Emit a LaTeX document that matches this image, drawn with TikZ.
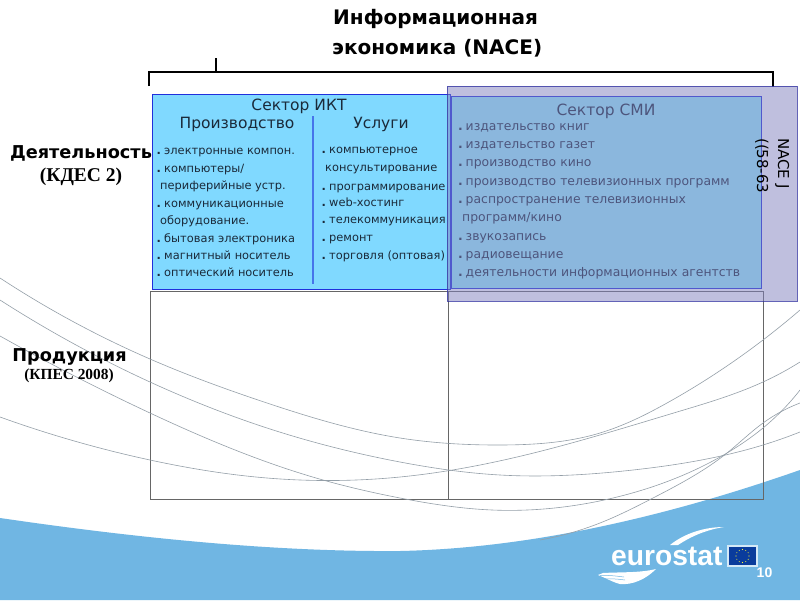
\documentclass[tikz,border=0pt]{standalone}
\usepackage{fontspec}
\usetikzlibrary{hobby}
\setmainfont{DejaVu Sans}
\newfontfamily\serifb{Liberation Serif}[BoldFont={Liberation Serif Bold}]
\newfontfamily\logofont{Liberation Sans}
\definecolor{wavec}{HTML}{70B6E3}
\definecolor{ictfill}{HTML}{80D9FF}
\definecolor{ictline}{HTML}{2030DC}
\definecolor{smifill}{HTML}{98F0FD}
\definecolor{overfill}{HTML}{8080BF}
\definecolor{overline}{HTML}{3030A0}
\definecolor{gridc}{HTML}{666666}
\definecolor{curvec}{HTML}{949FA8}
\definecolor{txt}{HTML}{1A2A3A}
\definecolor{flagc}{HTML}{0A3C9C}
\newcommand{\dotitem}[1]{\makebox[7.5pt][l]{\textbf{.}}#1}
\tikzset{
  ll/.style={anchor=base west,inner sep=0pt,font=\fontsize{11.4}{13}\selectfont,text=txt},
  lm/.style={anchor=base west,inner sep=0pt,font=\fontsize{12.4}{14}\selectfont,text=txt},
  hd/.style={anchor=center,inner sep=0pt,font=\fontsize{15.5}{18}\selectfont,text=txt},
  ttl/.style={anchor=base west,inner sep=0pt,font=\fontsize{20}{23}\selectfont\bfseries},
  side/.style={anchor=center,inner sep=0pt,font=\fontsize{17.7}{20}\selectfont\bfseries},
  sub/.style={anchor=center,inner sep=0pt},
  curve/.style={curvec,line width=0.6pt,use Hobby shortcut},
  grid box/.style={draw=gridc,line width=1.2pt},
}
\begin{document}
\begin{tikzpicture}[x=1pt,y=-1pt]
\useasboundingbox (0,0) rectangle (800,600);
\fill[white] (0,0) rectangle (800,600);
% background wave
\fill[wavec] (0,518) .. controls (130,537) and (270,552) .. (400,551)
  .. controls (540,548) and (680,512) .. (800,470) -- (800,600) -- (0,600) -- cycle;
% lower grid
\node[grid box,minimum width=298pt,minimum height=208pt,anchor=north west,inner sep=0pt] (lowL) at (150,291) {};
\node[grid box,minimum width=315pt,minimum height=208pt,anchor=north west,inner sep=0pt] (lowR) at (448,291) {};
% curves
\draw[curve] (0,278) .. (150,359) .. (267,403) .. (400,438) .. (500,445) .. (600,433) .. (667,403) .. (763,340) .. (800,310);
\draw[curve] (0,300) .. (150,382) .. (267,428) .. (400,462) .. (500,475) .. (633,470) .. (763,445) .. (800,432);
\draw[curve] (0,336) .. (150,413) .. (323,480) .. (400,498) .. (492,510) .. (613,498) .. (727,453) .. (763,428) .. (800,390);
\draw[curve] (0,417) .. (150,460) .. (267,478) .. (400,477) .. (517,457) .. (677,412) .. (763,382) .. (800,362);
\draw[curve] (540,540) .. (600,523) .. (653,498) .. (727,453) .. (763,423) .. (800,403);
% bracket
\coordinate (brL) at (149,86);
\coordinate (brLt) at (149,72);
\coordinate (brRt) at (773,72);
\coordinate (brR) at (773,87);
\coordinate (tickB) at (216,72);
\coordinate (tickT) at (216,58);
\draw[black,line width=2.6pt] (brL) -- (brLt) -- (brRt) -- (brR);
\draw[black,line width=2.6pt] (tickB) -- (tickT);
% title
\node[ttl] (t1) at (333,24) {Информационная};
\node[ttl] (t2) at (332,54) {экономика (NACE)};
% side labels
\node[side] (dey) at (81,153) {Деятельность};
\node[sub,font=\serifb\bfseries\fontsize{19.5}{22}\selectfont] (kdes) at (81,177) {(КДЕС 2)};
\node[side] (prod) at (69.5,356.5) {Продукция};
\node[sub,font=\serifb\bfseries\fontsize{15.4}{18}\selectfont] (kpes) at (69,376) {(КПЕС 2008)};
% ICT box
\node[draw=ictline,fill=ictfill,line width=1.3pt,minimum width=298pt,minimum height=195pt,anchor=north west,inner sep=0pt] (ict) at (152,94) {};
\coordinate (divT) at (313,116);
\coordinate (divB) at (313,284);
\draw[color=ictline!60!ictfill,line width=1.2pt] (divT) -- (divB);
\node[hd] (ictH) at (299,106.5) {Сектор ИКТ};
\node[hd] (pr) at (237,124.5) {Производство};
\node[hd] (us) at (381,124.5) {Услуги};
\node[ll] (a1) at (156.5,154) {\dotitem{электронные компон.}};
\node[ll] (a2) at (156.5,172) {\dotitem{компьютеры/}};
\node[ll] (a3) at (160,189) {периферийные устр.};
\node[ll] (a4) at (156.5,207) {\dotitem{коммуникационные}};
\node[ll] (a5) at (160,224) {оборудование.};
\node[ll] (a6) at (156.5,242) {\dotitem{бытовая электроника}};
\node[ll] (a7) at (156.5,259) {\dotitem{магнитный носитель}};
\node[ll] (a8) at (156.5,276) {\dotitem{оптический носитель}};
\node[ll] (b1) at (321.5,153) {\dotitem{компьютерное}};
\node[ll] (b2) at (325,171) {консультирование};
\node[ll] (b3) at (321.5,190) {\dotitem{программирование}};
\node[ll] (b4) at (321.5,206) {\dotitem{web-хостинг}};
\node[ll] (b5) at (321.5,223) {\dotitem{телекоммуникация}};
\node[ll] (b6) at (321.5,241) {\dotitem{ремонт}};
\node[ll] (b7) at (321.5,259) {\dotitem{торговля (оптовая)}};
% SMI box
\node[draw=ictline,fill=smifill,line width=1.3pt,minimum width=310pt,minimum height=192pt,anchor=north west,inner sep=0pt] (smi) at (451,96) {};
\node[hd] (smiH) at (606,111.5) {Сектор СМИ};
\node[lm] (c1) at (458,130) {\dotitem{издательство книг}};
\node[lm] (c2) at (458,148) {\dotitem{издательство газет}};
\node[lm] (c3) at (458,166) {\dotitem{производство кино}};
\node[lm] (c4) at (458,185) {\dotitem{производство телевизионных программ}};
\node[lm] (c5) at (458,203) {\dotitem{распространение телевизионных}};
\node[lm] (c6) at (462,221) {программ/кино};
\node[lm] (c7) at (458,240) {\dotitem{звукозапись}};
\node[lm] (c8) at (458,258) {\dotitem{радиовещание}};
\node[lm] (c9) at (458,276) {\dotitem{деятельности информационных агентств}};
% translucent overlay
\node[draw=overline,fill=overfill,fill opacity=0.5,draw opacity=0.75,line width=0.9pt,minimum width=350pt,minimum height=215pt,anchor=north west,inner sep=0pt] (over) at (447,86) {};
% NACE text
\node[anchor=base west,rotate=-90,inner sep=0pt,font=\fontsize{15}{17}\selectfont] (n1) at (778,138) {NACE J};
\node[anchor=base west,rotate=-90,inner sep=0pt,font=\fontsize{15}{17}\selectfont] (n2) at (757,138) {((58-63};
% logo
\node[anchor=base west,inner sep=0pt,text=white,font=\logofont\bfseries\fontsize{28.2}{32}\selectfont] (logo) at (611,565) {eurostat};
\fill[white] (670,545) .. controls (685,533) and (705,527) .. (724,527) .. controls (705,530) and (690,537) .. (678,545) -- cycle;
\fill[white] (603,573) .. controls (620,572) and (640,573) .. (656,569) .. controls (645,580) and (632,585) .. (620,584) .. controls (612,582) and (606,578) .. (598,575) -- cycle;
\draw[wavec,line width=0.5pt] (600,575.5) .. controls (608,575) and (616,576) .. (624,577);
\draw[wavec,line width=0.5pt] (604,579) .. controls (611,578.5) and (618,579) .. (625,580);
\draw[white!70!wavec,line width=1pt,fill=white!70!wavec] (727.5,545.5) rectangle (757.5,566.5);
\fill[flagc] (729,547) rectangle (756,565);
\foreach \a in {0,30,...,330} \fill[yellow!80!white] ({742.5+6.5*cos(\a)},{556+6.5*sin(\a)}) circle (0.6pt);
\node[anchor=center,inner sep=0pt,text=white,font=\logofont\bfseries\fontsize{14}{16}\selectfont] (pg) at (764.5,573) {10};
\end{tikzpicture}
\end{document}
